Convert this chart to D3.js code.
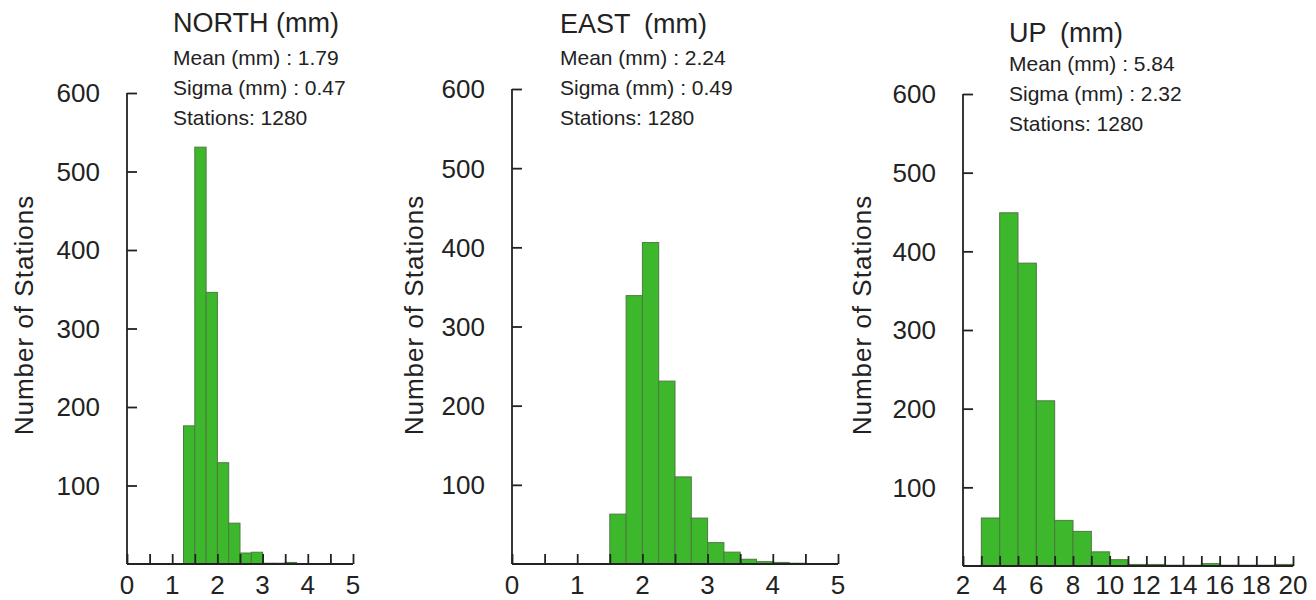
<!DOCTYPE html>
<html>
<head>
<meta charset="utf-8">
<script src="https://cdn.jsdelivr.net/npm/d3@7"></script>
<style>
  body { margin: 0; background: #ffffff; }
  svg text { font-family: "Liberation Sans", Arial, sans-serif; fill: #222; }
</style>
</head>
<body>
<div id="chart"></div>
<script>
// bin starts and station counts
const northX0 = [1.25, 1.5, 1.75, 2.0, 2.25, 2.5, 2.75, 3.0, 3.25, 3.5]
const northCounts = [176, 531, 346, 129, 52, 14, 15, 1, 1, 2]

const eastX0 = [1.5, 1.75, 2.0, 2.25, 2.5, 2.75, 3.0, 3.25, 3.5, 3.75, 4.0, 4.25]
const eastCounts = [63, 339, 406, 231, 110, 58, 27, 15, 6, 3, 2, 1]

const upX0 = [3, 4, 5, 6, 7, 8, 9, 10, 11, 12, 13, 14, 15, 16, 17, 18, 19]
const upCounts = [61, 449, 385, 210, 58, 44, 18, 8, 2, 2, 1, 1, 3, 1, 1, 1, 2]

const yTicks = [100, 200, 300, 400, 500, 600]
const northXLabels = [0, 1, 2, 3, 4, 5]
const eastXLabels = [0, 1, 2, 3, 4, 5]
const upXLabels = [2, 4, 6, 8, 10, 12, 14, 16, 18, 20]

const titles = ["NORTH (mm)", "EAST\u2002(mm)", "UP\u2002(mm)"]
const means = ["1.79", "2.24", "5.84"]
const sigmas = ["0.47", "0.49", "2.32"]
const stations = ["1280", "1280", "1280"]

const W = 1316, H = 600

const svg = d3.select("#chart")
  .append("svg")
  .attr("width", W)
  .attr("height", H)

// layout of the three panels (pixel boxes)
const panels = [
  {x0: northX0, counts: northCounts, bw: 0.25, dom: [0, 5], minor: 0.5, labels: northXLabels,
   left: 127, right: 353, base: 564, top: 93, titleX: 173, titleY: 32, statY: 65, ylab: 24},
  {x0: eastX0, counts: eastCounts, bw: 0.25, dom: [0, 5], minor: 0.5, labels: eastXLabels,
   left: 512, right: 838, base: 564, top: 89, titleX: 560, titleY: 33, statY: 65, ylab: 414},
  {x0: upX0, counts: upCounts, bw: 1, dom: [2, 20], minor: 1, labels: upXLabels,
   left: 963, right: 1293, base: 566, top: 94, titleX: 1009, titleY: 42, statY: 71, ylab: 862}
]

panels.forEach((p, i) => {
  const g = svg.append("g")

  const x = d3.scaleLinear().domain(p.dom).range([p.left, p.right])
  const y = d3.scaleLinear().domain([0, 600]).range([p.base, p.top])

  // bars
  g.selectAll("rect.bar")
    .data(p.counts.map((c, j) => ({x0: p.x0[j], c: c})))
    .join("rect")
      .attr("class", "bar")
      .attr("x", d => x(d.x0))
      .attr("y", d => y(d.c))
      .attr("width", d => x(d.x0 + p.bw) - x(d.x0))
      .attr("height", d => p.base - y(d.c))
      .attr("fill", "#3db82c")
      .attr("stroke", "#4d7a40")
      .attr("stroke-width", 1)

  // y axis, ticks pointing inward
  const yAxis = d3.axisRight(y)
    .tickValues(yTicks)
    .tickSize(10)
    .tickFormat("")
  g.append("g")
    .attr("transform", `translate(${p.left},0)`)
    .call(yAxis)
    .call(s => s.select(".domain").attr("d", `M0,${p.top}V${p.base}`))
    .call(s => s.selectAll("line, path").attr("stroke", "#222").attr("stroke-width", 1.8))

  g.selectAll("text.ytick")
    .data(yTicks)
    .join("text")
      .attr("class", "ytick")
      .attr("x", p.left - 27)
      .attr("y", d => y(d))
      .attr("dy", "0.36em")
      .attr("text-anchor", "end")
      .style("font-size", "26px")
      .text(d => d)

  // x axis, ticks pointing up
  const minorTicks = d3.range(p.dom[0], p.dom[1] + p.minor / 2, p.minor)
  const xAxis = d3.axisTop(x)
    .tickValues(minorTicks)
    .tickSize(10)
    .tickFormat("")
  g.append("g")
    .attr("transform", `translate(0,${p.base})`)
    .call(xAxis)
    .call(s => s.select(".domain").attr("d", `M${p.left},0H${p.right}`))
    .call(s => s.selectAll("line, path").attr("stroke", "#222").attr("stroke-width", 1.8))

  g.selectAll("text.xtick")
    .data(p.labels)
    .join("text")
      .attr("class", "xtick")
      .attr("x", d => x(d))
      .attr("y", 594)
      .attr("text-anchor", "middle")
      .style("font-size", "26px")
      .text(d => d)

  // y label
  g.append("text")
    .attr("transform", `translate(${p.ylab + 9},${315}) rotate(-90)`)
    .attr("text-anchor", "middle")
    .style("font-size", "26px")
    .style("letter-spacing", "1px")
    .text("Number of Stations")

  // title and stats
  g.append("text")
    .attr("x", p.titleX)
    .attr("y", p.titleY)
    .style("font-size", "27px")
    .text(titles[i])

  const stats = [`Mean (mm) : ${means[i]}`, `Sigma (mm) : ${sigmas[i]}`, `Stations: ${stations[i]}`]
  g.selectAll("text.stat")
    .data(stats)
    .join("text")
      .attr("class", "stat")
      .attr("x", p.titleX)
      .attr("y", (d, j) => p.statY + j * 30)
      .style("font-size", "21px")
      .text(d => d)
})
</script>
</body>
</html>
